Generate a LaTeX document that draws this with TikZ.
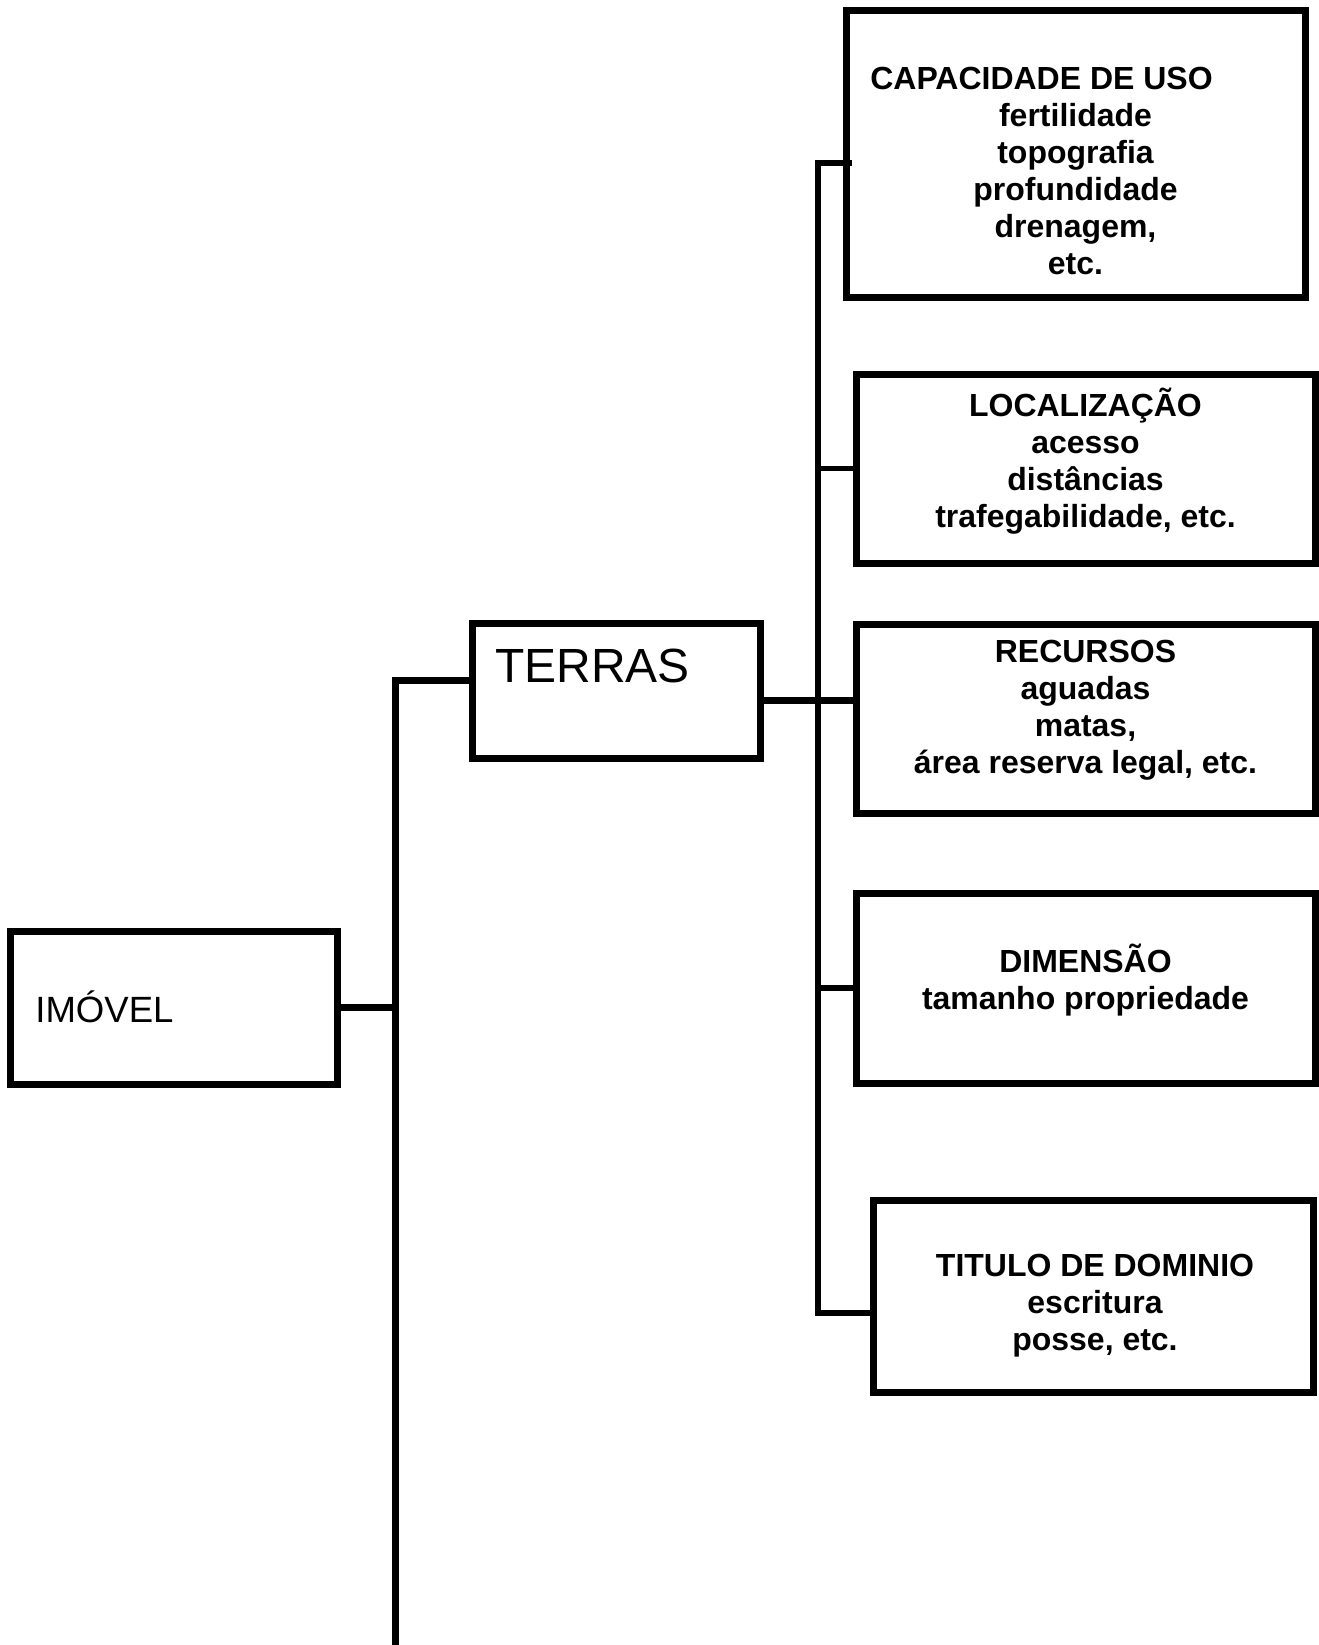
\documentclass[tikz,border=0pt]{standalone}
\usepackage{fontspec}
\setmainfont{Liberation Sans}
\begin{document}
\begin{tikzpicture}[
            box/.style={draw, line width=0.14cm, inner sep=0pt},
            txt/.style={align=center, inner sep=0pt,
                    font=\bfseries\fontsize{18.2}{21}\selectfont},
            big/.style={inner sep=0pt, anchor=base west},
            link/.style={line width=0.11cm},
            thicklink/.style={line width=0.14cm}
        ]
        \useasboundingbox (0,0) rectangle (26.38,-32.9);

        \node[box, minimum width=6.52cm, minimum height=3.06cm] (imovel) at (3.48,-20.15) {};
        \node[box, minimum width=5.76cm, minimum height=2.7cm] (terras) at (12.32,-13.81) {};
        \node[box, minimum width=9.18cm, minimum height=5.74cm] (cap) at (21.51,-3.07) {};
        \node[box, minimum width=9.18cm, minimum height=3.78cm] (loc) at (21.71,-9.37) {};
        \node[box, minimum width=9.18cm, minimum height=3.78cm] (rec) at (21.71,-14.37) {};
        \node[box, minimum width=9.18cm, minimum height=3.8cm] (dim) at (21.71,-19.76) {};
        \node[box, minimum width=8.8cm, minimum height=3.84cm] (tit) at (21.86,-25.92) {};

        \node[big, font=\fontsize{20.8}{24}\selectfont] (imovelT) at (0.70,-20.44) {IMÓVEL};
        \node[big, font=\fontsize{27.3}{30}\selectfont] (terrasT) at (9.9,-13.64) {TERRAS};
        \node[txt] (capT) at (21.51,-3.42) {CAPACIDADE DE USO\hspace*{1.36cm}\\ fertilidade\\ topografia\\ profundidade\\ drenagem,\\ etc.};
        \node[txt] (locT) at (21.71,-9.22) {LOCALIZAÇÃO\\ acesso\\ distâncias\\ trafegabilidade, etc.};
        \node[txt] (recT) at (21.71,-14.2) {RECURSOS\\ aguadas\\ matas,\\ área reserva legal, etc.};
        \node[txt] (dimT) at (21.71,-19.6) {DIMENSÃO\\ tamanho propriedade};
        \node[txt] (titT) at (21.9,-26.12) {TITULO DE DOMINIO\\ escritura\\ posse, etc.};

        \coordinate (lbTop) at (7.9,-13.6);
        \coordinate (lbBot) at (7.9,-32.9);
        \coordinate (rbTop) at (16.36,-3.26);
        \coordinate (rbBot) at (16.36,-26.26);
        \coordinate (hub) at (16.36,-14.0);

        \draw[thicklink] (lbBot) -- (lbTop) -- (lbTop -| terras.west);
        \draw[thicklink] (imovel.east) -- (imovel.east -| lbTop);
        \draw[link] (rbBot -| tit.west) -- (rbBot) -- (rbTop) -- ([xshift=0.18cm]rbTop -| cap.west);
        \draw[thicklink] (hub -| terras.east) -- (hub -| rec.west);
        \draw[link] (loc.west -| hub) -- (loc.west);
        \draw[link] (dim.west -| hub) -- (dim.west);
    \end{tikzpicture}
\end{document}
